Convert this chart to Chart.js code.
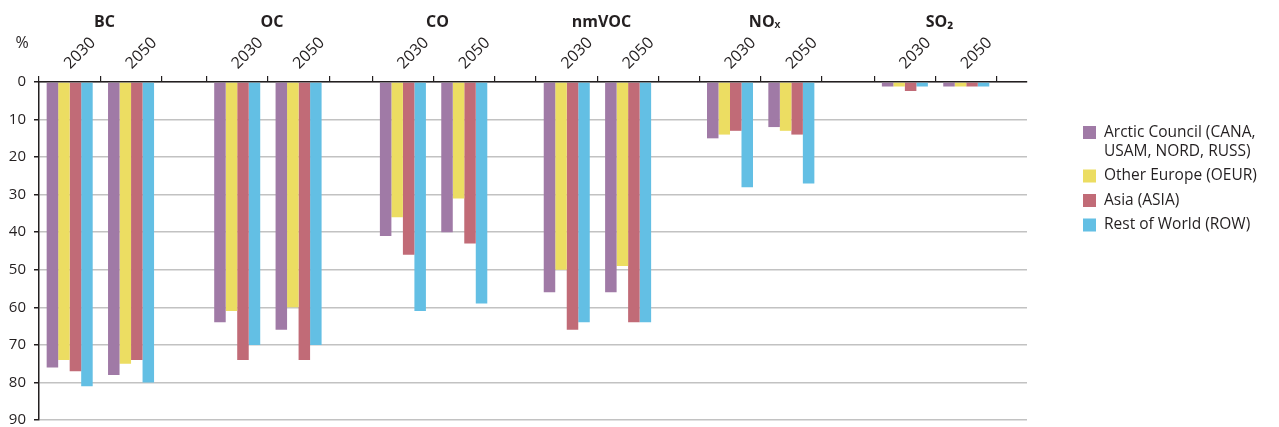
<!DOCTYPE html>
<html>
<head>
<meta charset="utf-8">
<script src="https://cdn.jsdelivr.net/npm/chart.js@4/dist/chart.umd.min.js"></script>
<style>
  html, body { margin: 0; padding: 0; background: #fff; overflow: hidden; }
  #wrap { position: relative; width: 1279px; height: 427px; }
</style>
</head>
<body>
<div id="wrap"><canvas id="chart"></canvas></div>
<script>
// Emission reductions (%) by source region, per species and scenario year
const pollutants = ['BC', 'OC', 'CO', 'nmVOC', 'NOₓ', 'SO₂'];
const years = ['2030', '2050'];
const regionLabels = [
  ['Arctic Council (CANA,', 'USAM, NORD, RUSS)'],
  ['Other Europe (OEUR)'],
  ['Asia (ASIA)'],
  ['Rest of World (ROW)']
];
// order: BC 2030, BC 2050, OC 2030, OC 2050, CO ..., nmVOC ..., NOx ..., SO2 ...
const arcticCouncil = [76, 78, 64, 66, 41, 40, 56, 56, 15, 12, 1.2, 1.2];
const otherEurope   = [74, 75, 61, 60, 36, 31, 50, 49, 14, 13, 1.2, 1.2];
const asia          = [77, 74, 74, 74, 46, 43, 66, 64, 13, 14, 2.4, 1.2];
const restOfWorld   = [81, 80, 70, 70, 61, 59, 64, 64, 28, 27, 1.2, 1.2];
const yTicks = [0, 10, 20, 30, 40, 50, 60, 70, 80, 90];

const seriesValues = [arcticCouncil, otherEurope, asia, restOfWorld];
const seriesColors = ['#a07aa6', '#ecdd62', '#c16b77', '#63bfe4'];
const ink = '#231f20';

// Horizontal layout in units of one year column
const spacingAfterGroup = [0.73, 0.70, 0.67, 0.66, 0.85];
const trailingSpace = 0.49;
const groupStart = [];
let cursor = 0;
pollutants.forEach((p, i) => {
  groupStart.push(cursor);
  cursor += years.length + (spacingAfterGroup[i] || 0);
});
const xMax = groupStart[groupStart.length - 1] + years.length + trailingSpace;
const slotCenters = groupStart.flatMap(s => years.map((y, j) => s + j + 0.5));
const slotEdges = groupStart.flatMap(s => years.map((y, j) => s + j).concat([s + years.length]));
const groupCenters = groupStart.map(s => s + years.length / 2);

Chart.defaults.font.family = "'Open Sans', sans-serif";
Chart.defaults.color = ink;

const datasets = seriesValues.map((vals, k) => ({
  label: regionLabels[k].join(' '),
  data: vals.map((v, i) => ({ x: slotCenters[i], y: v })),
  backgroundColor: seriesColors[k],
  xAxisID: 'xYears',
  yAxisID: 'y',
  categoryPercentage: 0.75,
  barPercentage: 1.0
}));

// Unit label and the region key beside the plot
const sideText = {
  id: 'sideText',
  afterDraw(chart) {
    const { ctx, chartArea } = chart;
    ctx.save();
    ctx.fillStyle = ink;
    ctx.font = "16px 'Open Sans'";
    ctx.textAlign = 'center';
    ctx.textBaseline = 'middle';
    ctx.fillText('%', chartArea.left - 17, chartArea.top - 39);

    ctx.font = "15.5px 'Open Sans'";
    ctx.textAlign = 'left';
    const x = chartArea.right + 56;
    let y = chartArea.top + 50.5;
    chart.data.datasets.forEach((ds, k) => {
      ctx.fillStyle = ds.backgroundColor;
      ctx.fillRect(x, y - 6.5, 13, 13);
      ctx.fillStyle = ink;
      regionLabels[k].forEach((line, j) => ctx.fillText(line, x + 21, y + j * 19));
      y += (regionLabels[k].length - 1) * 19 + 24.5;
    });
    ctx.restore();
  }
};

const plainX = (weight, ticksAt, extra) => Object.assign({
  type: 'linear', position: 'top', weight, min: 0, max: xMax, offset: false,
  afterBuildTicks: s => { s.ticks = ticksAt.map(v => ({ value: v })); }
}, extra);

new Chart(document.getElementById('chart'), {
  type: 'bar',
  data: { datasets },
  plugins: [sideText],
  options: {
    responsive: true,
    maintainAspectRatio: false,
    animation: false,
    layout: { padding: { left: 0, top: 0, right: 252, bottom: 7 } },
    plugins: { legend: { display: false }, tooltip: { enabled: false } },
    scales: {
      xTicks: plainX(0, slotEdges, {
        ticks: { display: false },
        grid: { offset: false, drawOnChartArea: false, drawTicks: true, tickLength: 6, color: ink, tickColor: ink, lineWidth: 1.2 },
        border: { display: true, color: ink, width: 1.5 },
        afterFit: s => { s.height = 7; }
      }),
      xYears: plainX(1, slotCenters, {
        ticks: {
          autoSkip: false, minRotation: 45, maxRotation: 45, padding: 2, labelOffset: 11,
          font: { size: 16 }, color: ink,
          callback: (v, i) => years[i % years.length]
        },
        grid: { offset: false, display: false, drawTicks: false },
        border: { display: false },
        afterFit: s => { s.height = 43; }
      }),
      xGroups: plainX(2, groupCenters, {
        ticks: {
          autoSkip: false, minRotation: 0, maxRotation: 0, padding: 0, labelOffset: 4,
          font: { size: 16, weight: 'bold' }, color: ink,
          callback: (v, i) => pollutants[i]
        },
        grid: { offset: false, display: false, drawTicks: false },
        border: { display: false },
        afterFit: s => { s.height = 32; }
      }),
      y: {
        type: 'linear', position: 'left', reverse: true, min: 0, max: 90,
        afterBuildTicks: s => { s.ticks = yTicks.map(v => ({ value: v })); },
        ticks: { padding: 8, font: { size: 15 }, color: ink },
        grid: { color: '#c2c2c2', lineWidth: 1.5, tickColor: ink, tickLength: 5 },
        border: { color: ink, width: 1.5 },
        afterFit: s => { s.width = 39; s.paddingTop = 0; s.paddingBottom = 0; }
      }
    }
  }
});
</script>
</body>
</html>
